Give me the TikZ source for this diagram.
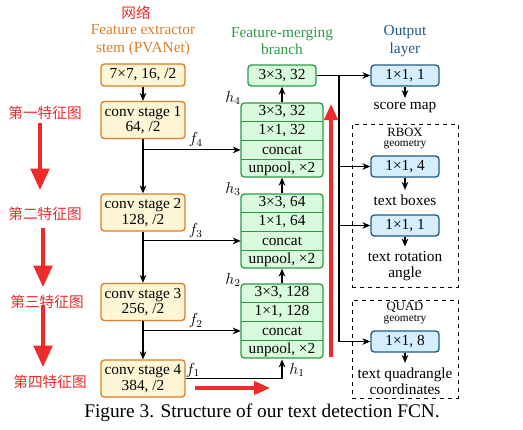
\documentclass[tikz,border=0pt]{standalone}
\usepackage{fontspec}
\setmainfont{Liberation Serif}
\newfontfamily\cjk{Noto Sans CJK SC}
\usetikzlibrary{arrows.meta}
\definecolor{stemline}{HTML}{E07B26}
\definecolor{stemfill}{HTML}{FFF6D5}
\definecolor{mergeline}{HTML}{2E9A45}
\definecolor{mergefill}{HTML}{D9FBDD}
\definecolor{outblue}{HTML}{1F5A87}
\definecolor{outfill}{HTML}{D5EEFC}
\definecolor{notered}{HTML}{EE2A2A}
\tikzset{
  stembox/.style={draw=stemline, fill=stemfill, line width=1pt, rounded corners=2.5pt, minimum width=63pt, align=center, inner sep=1pt},
  mergebox/.style={draw=mergeline, fill=mergefill, line width=1pt, rounded corners=2.5pt, minimum width=51pt, minimum height=15.75pt, inner sep=1pt},
  stackbox/.style={draw=mergeline, fill=mergefill, line width=1pt, rounded corners=2.5pt, minimum width=61.5pt, minimum height=55.5pt},
  row/.style={minimum width=61.5pt, minimum height=13.875pt, inner sep=0pt, anchor=north},
  sep/.style={draw=mergeline, line width=1pt},
  outbox/.style={draw=outblue, fill=outfill, line width=1pt, rounded corners=2.5pt, minimum width=51pt, minimum height=15.75pt, inner sep=1pt},
  geobox/.style={draw, dashed, line width=0.7pt, minimum width=79.5pt},
  geotitle/.style={font=\fontsize{9.5}{9.5}\selectfont, inner sep=0pt},
  geosub/.style={font=\fontsize{8.5}{8.5}\selectfont, inner sep=0pt},
  link/.style={-{Stealth[length=6pt,width=5pt]}, line width=0.8pt},
  note/.style={draw=notered, line width=2.4pt, -{Triangle[length=12pt,width=10pt]}},
  bignote/.style={note, -{Triangle[length=16pt,width=14pt]}},
  zh/.style={text=notered, font=\cjk\fontsize{11}{11}\selectfont},
}
\begin{document}
\begin{tikzpicture}[x=0.75pt, y=-0.75pt, font=\fontsize{11.5}{11.5}\selectfont]
% \draw[help lines, gray, step=20] (0,0) grid (523,429);
\useasboundingbox (0,0) rectangle (523,429);
% titles
\node[zh] (net) at (136,13) {网络};
\node[text=stemline, align=center] (stemtitle) at (143,40) {Feature extractor\\[1.5pt]stem (PVANet)};
\node[text=mergeline, align=center] (mergetitle) at (282,41) {Feature-merging\\[1.5pt]branch};
\node[text=outblue, align=center] (outtitle) at (405,41) {Output\\[1.5pt]layer};
% feature extractor stem
\node[stembox, minimum height=16.5pt] (stem) at (143,75) {7×7, 16, /2};
\node[stembox, minimum height=27.75pt] (stagea) at (143,120) {conv stage 1\\64, /2};
\node[stembox, minimum height=27.75pt] (stageb) at (143,212.5) {conv stage 2\\128, /2};
\node[stembox, minimum height=27.75pt] (stagec) at (143,302) {conv stage 3\\256, /2};
\node[stembox, minimum height=27.75pt] (staged) at (143,378.5) {conv stage 4\\384, /2};
\draw[link] (stem) -- (stagea);
\draw[link] (stagea) -- (stageb);
\draw[link] (stageb) -- (stagec);
\draw[link] (stagec) -- (staged);
% feature-merging branch
\node[mergebox] (merge) at (282,75.5) {3×3, 32};
\node[stackbox] (hfour) at (282,140) {};
\node[row] (hfoura) at (hfour.north) {3×3, 32};
\node[row] (hfourb) at (hfoura.south) {1×1, 32};
\node[row] (hfourc) at (hfourb.south) {concat};
\node[row] (hfourd) at (hfourc.south) {unpool, ×2};
\draw[sep] (hfourb.north west) -- (hfourb.north east) (hfourc.north west) -- (hfourc.north east) (hfourd.north west) -- (hfourd.north east);
\node[stackbox] (hthree) at (282,231) {};
\node[row] (hthreea) at (hthree.north) {3×3, 64};
\node[row] (hthreeb) at (hthreea.south) {1×1, 64};
\node[row] (hthreec) at (hthreeb.south) {concat};
\node[row] (hthreed) at (hthreec.south) {unpool, ×2};
\draw[sep] (hthreeb.north west) -- (hthreeb.north east) (hthreec.north west) -- (hthreec.north east) (hthreed.north west) -- (hthreed.north east);
\node[stackbox] (htwo) at (282,321) {};
\node[row] (htwoa) at (htwo.north) {3×3, 128};
\node[row] (htwob) at (htwoa.south) {1×1, 128};
\node[row] (htwoc) at (htwob.south) {concat};
\node[row] (htwod) at (htwoc.south) {unpool, ×2};
\draw[sep] (htwob.north west) -- (htwob.north east) (htwoc.north west) -- (htwoc.north east) (htwod.north west) -- (htwod.north east);
\draw[link] (hfour) -- (merge);
\draw[link] (hthree) -- (hfour);
\draw[link] (htwo) -- (hthree);
\node (hfourtag) at (233,98) {$h_4$};
\node (hthreetag) at (233,189) {$h_3$};
\node (htwotag) at (233,280) {$h_2$};
\node (honetag) at (297,370) {$h_1$};
% skip connections
\draw[link] (stagea.south |- hfourc.west) -- (hfourc.west) node[pos=0.54, above, inner sep=2pt] {$f_4$};
\draw[link] (stageb.south |- hthreec.west) -- (hthreec.west) node[pos=0.54, above, inner sep=2pt] {$f_3$};
\draw[link] (stagec.south |- htwoc.west) -- (htwoc.west) node[pos=0.54, above, inner sep=2pt] {$f_2$};
\draw[link] (staged.east) -| (htwod.south);
\node (fonetag) at (193,370) {$f_1$};
% output layer
\node[outbox] (score) at (405,75.5) {1×1, 1};
\node (scoremap) at (405,108) {score map};
\draw[link] (merge) -- (score);
\draw[link] (score) -- (scoremap);
\node[geobox, minimum height=122.25pt] (rbox) at (405,205.5) {};
\node[geotitle] (rboxtitle) at (405,132) {RBOX};
\node[geosub] (rboxsub) at (405,144.5) {geometry};
\node[outbox] (rboxconv) at (405,166.5) {1×1, 4};
\node (boxes) at (405,200) {text boxes};
\node[outbox] (angleconv) at (405,225.5) {1×1, 1};
\node[align=center] (angle) at (405,266) {text rotation\\[0.5pt]angle};
\draw[link] (rboxconv) -- (boxes);
\draw[link] (angleconv) -- (angle);
\node[geobox, minimum height=73.5pt] (quad) at (405,349) {};
\node[geotitle] (quadtitle) at (405,307.5) {QUAD};
\node[geosub] (quadsub) at (405,319.5) {geometry};
\node[outbox] (quadconv) at (405,341.5) {1×1, 8};
\node[align=center] (coords) at (405,381) {text quadrangle\\[0.5pt]coordinates};
\draw[link] (quadconv) -- (coords);
\coordinate (split) at (339,75.5);
\draw[link] (split) |- (rboxconv);
\draw[link] (split) |- (angleconv);
\draw[link] (split) |- (quadconv);
% red notes
\node[zh] (firstmap) at (45,113) {第一特征图};
\node[zh] (secondmap) at (45,214) {第二特征图};
\node[zh] (thirdmap) at (47,302) {第三特征图};
\node[zh] (fourthmap) at (50,382) {第四特征图};
\draw[bignote] (40,123) -- (40,190);
\draw[bignote] (43,228) -- (43,287);
\draw[bignote] (43,305) -- (43,367);
\coordinate (upstart) at (331,357);
\coordinate (upend) at (331,104);
\draw[note] (upstart) -- (upend);
\coordinate (rightstart) at (195,388);
\coordinate (rightend) at (270,388);
\draw[note] (rightstart) -- (rightend);
% caption
\node[font=\fontsize{14.5}{14.5}\selectfont] (caption) at (262,413) {Figure 3. Structure of our text detection FCN.};
\end{tikzpicture}
\end{document}
